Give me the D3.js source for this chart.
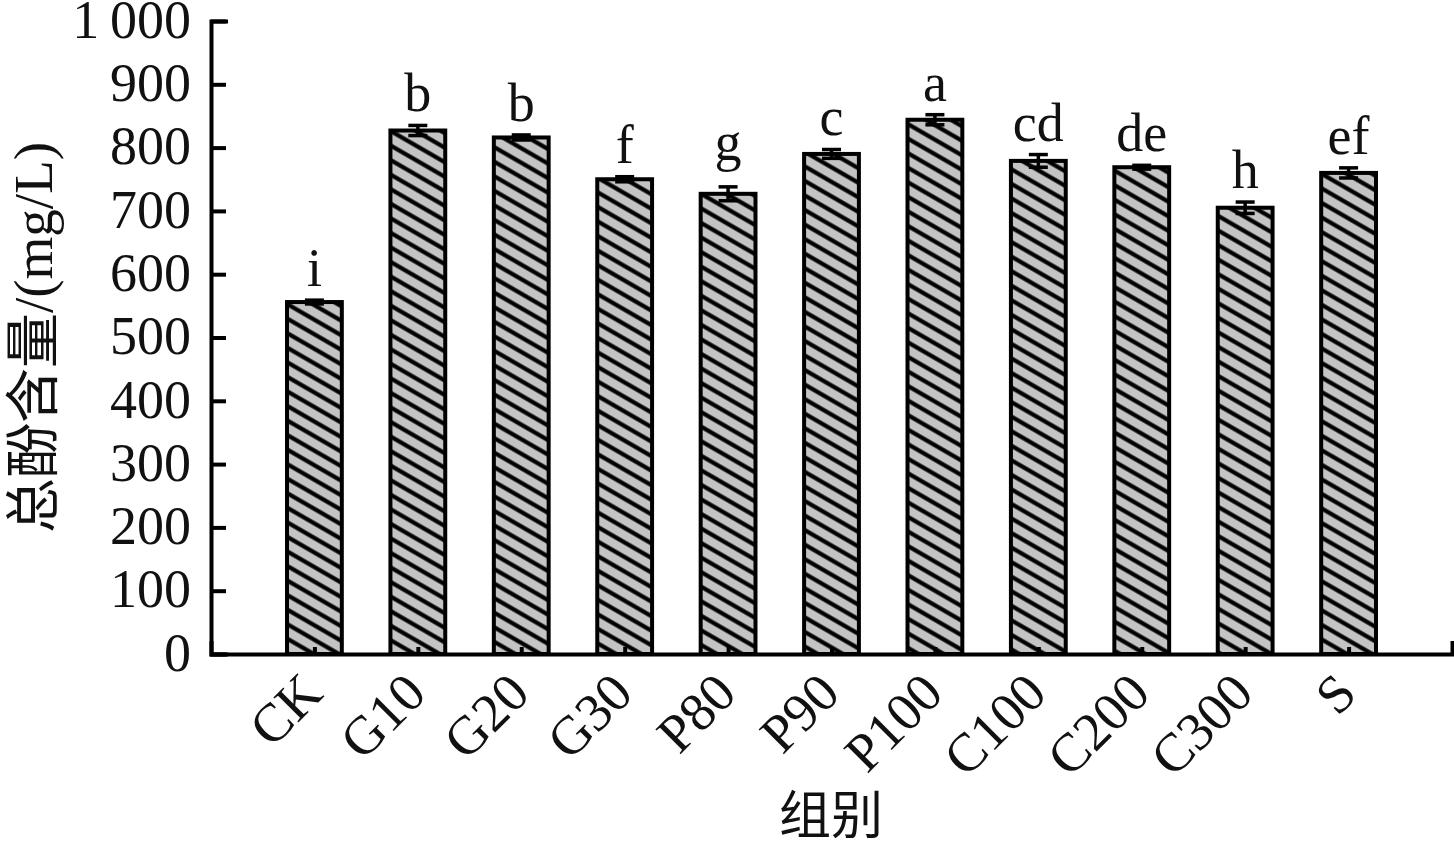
<!DOCTYPE html>
<html>
<head>
<meta charset="utf-8">
<script src="https://cdn.jsdelivr.net/npm/d3@7"></script>
<style>
  body { margin: 0; background: #fff; }
  svg { display: block; }
</style>
</head>
<body>
<svg class="chart"></svg>
<script>
// data
const groups = ['CK', 'G10', 'G20', 'G30', 'P80', 'P90', 'P100', 'C100', 'C200', 'C300', 'S'];
const totalPhenol = [556, 827, 816, 750, 727, 790, 844, 779, 769, 705, 760];
const errors = [3, 8, 4, 4, 11, 7, 8, 10, 3, 9, 8];
const letters = ['i', 'b', 'b', 'f', 'g', 'c', 'a', 'cd', 'de', 'h', 'ef'];
const yTicks = [0, 100, 200, 300, 400, 500, 600, 700, 800, 900, 1000];

const serif = '"Liberation Serif", "Times New Roman", "Noto Sans CJK SC", serif';

const startApp = () => {
  const width = 1454;
  const height = 849;
  const margin = { top: 21, right: 2, bottom: 195, left: 211 };
  const innerH = height - margin.top - margin.bottom;

  const svg = d3.select('.chart').attr('width', width).attr('height', height);

  const x = d3.scalePoint()
    .domain(groups)
    .range([margin.left, width - margin.right])
    .padding(1);
  const y = d3.scaleLinear().domain([0, 1000]).range([margin.top + innerH, margin.top]);
  const barW = x.step() * 0.53;

  // hatch fill
  const pat = svg.append('defs').append('pattern')
    .attr('id', 'hatch')
    .attr('patternUnits', 'userSpaceOnUse')
    .attr('width', 12)
    .attr('height', 12.6)
    .attr('patternTransform', 'rotate(30)');
  pat.append('rect').attr('width', 12).attr('height', 12.6).attr('fill', '#c4c4c4');
  pat.append('line')
    .attr('x1', 0).attr('x2', 12).attr('y1', 6.3).attr('y2', 6.3)
    .attr('stroke', '#000').attr('stroke-width', 4.2);

  const data = groups.map((g, i) => ({ g, v: totalPhenol[i], e: errors[i], l: letters[i] }));

  svg.append('g').selectAll('rect')
    .data(data)
    .enter()
    .append('rect')
    .attr('x', d => x(d.g) - barW / 2)
    .attr('y', d => y(d.v))
    .attr('width', barW)
    .attr('height', d => y(0) - y(d.v))
    .attr('fill', 'url(#hatch)')
    .attr('stroke', '#000')
    .attr('stroke-width', 4);

  // error bars
  const err = svg.append('g').attr('stroke', '#000').attr('stroke-width', 3.5);
  data.forEach(d => {
    const cx = x(d.g);
    err.append('line').attr('x1', cx).attr('x2', cx).attr('y1', y(d.v - d.e)).attr('y2', y(d.v + d.e));
    err.append('line').attr('x1', cx - 9.5).attr('x2', cx + 9.5).attr('y1', y(d.v + d.e)).attr('y2', y(d.v + d.e));
    err.append('line').attr('x1', cx - 9.5).attr('x2', cx + 9.5).attr('y1', y(d.v - d.e)).attr('y2', y(d.v - d.e));
  });

  // significance letters
  svg.append('g').selectAll('text')
    .data(data)
    .enter()
    .append('text')
    .attr('x', d => x(d.g))
    .attr('y', d => y(d.v + d.e) - (/[gjpqy]/.test(d.l) ? 27 : 14))
    .attr('text-anchor', 'middle')
    .attr('font-family', serif)
    .attr('font-size', 54)
    .attr('fill', '#111')
    .text(d => d.l);

  // axes
  const yAxis = svg.append('g')
    .attr('transform', `translate(${margin.left},0)`)
    .call(d3.axisLeft(y)
      .tickValues(yTicks)
      .tickSizeInner(-15)
      .tickSizeOuter(-15)
      .tickPadding(20)
      .tickFormat(v => v >= 1000 ? d3.format(',')(v).replace(',', '\u2009') : v));

  const xAxis = svg.append('g')
    .attr('transform', `translate(0,${y(0)})`)
    .call(d3.axisBottom(x).tickSizeInner(-7).tickSizeOuter(-11).tickPadding(0));

  [yAxis, xAxis].forEach(ax => {
    ax.select('.domain').attr('stroke-width', 4).attr('stroke-linecap', 'square');
    ax.selectAll('.tick line').attr('stroke-width', 4);
    ax.selectAll('text')
      .attr('font-family', serif)
      .attr('font-size', 54)
      .attr('fill', '#111');
  });
  yAxis.selectAll('text').attr('dy', '0.3em');

  xAxis.selectAll('.tick text')
    .attr('y', 0)
    .attr('dy', 0)
    .attr('text-anchor', 'end')
    .attr('transform', 'translate(10,42) rotate(-45)');

  // axis titles
  svg.append('text')
    .attr('transform', `translate(52,${(y(0) + y(1000)) / 2}) rotate(-90)`)
    .attr('text-anchor', 'middle')
    .attr('font-family', serif)
    .attr('font-size', 55)
    .attr('fill', '#111')
    .text('总酚含量/(mg/L)');

  svg.append('text')
    .attr('x', 831)
    .attr('y', 834)
    .attr('text-anchor', 'middle')
    .attr('font-family', '"Noto Sans CJK SC", sans-serif')
    .attr('font-size', 52)
    .attr('fill', '#111')
    .text('组别');
};

window.onload = startApp;
</script>
</body>
</html>
